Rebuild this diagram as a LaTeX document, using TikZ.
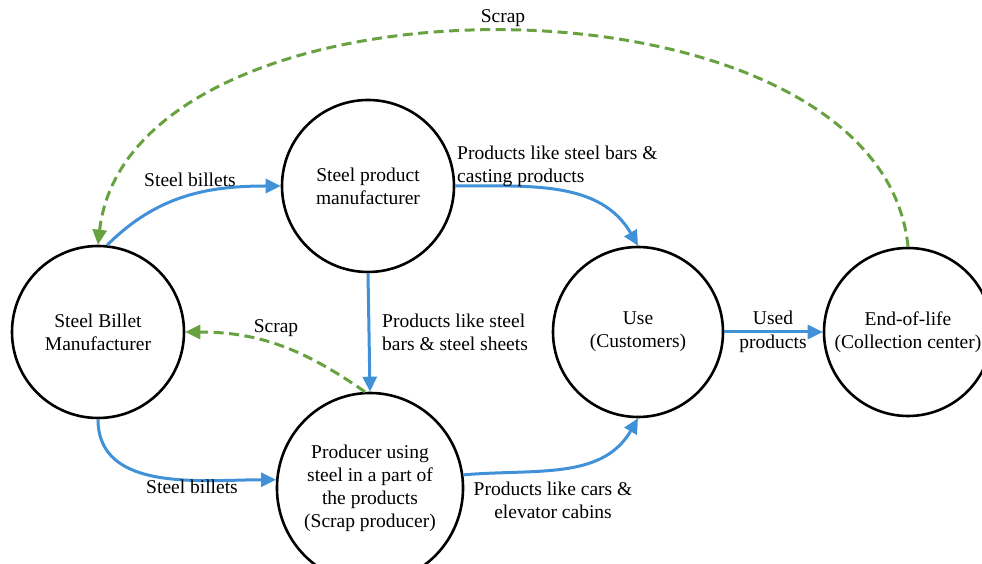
\documentclass[tikz,border=0pt]{standalone}
\usepackage{fontspec}
\setmainfont{Liberation Serif}
\usetikzlibrary{arrows.meta,shapes.geometric}
\definecolor{flowblue}{RGB}{64,145,215}
\definecolor{scrapgreen}{RGB}{104,162,64}
\begin{document}
\begin{tikzpicture}[x=1pt,y=1pt,
  txt/.style={font=\fontsize{19.5}{23}\selectfont},
  stage/.style={txt,circle,draw=black,line width=2.6pt,minimum size=#1,inner sep=0pt,align=center},
  stage/.default=172pt,
  flow/.style={draw=flowblue,line width=3pt,-{Triangle[length=15pt,width=14pt]}},
  scrapline/.style={draw=scrapgreen,line width=3pt,dash pattern=on 10pt off 5.5pt,-{Triangle[length=15pt,width=14pt]}},
  lbl/.style={txt,inner sep=0pt}]
\clip (0,0) rectangle (982,564);
% stages
\node[stage] (Billet) at (98,232) {Steel Billet\\Manufacturer};
\node[stage] (SPM) at (368,378) {Steel product\\manufacturer};
\node[stage=170pt] (Use) at (638,232) {Use\\(Customers)};
\node[stage=168pt] (End) at (908,232) {End-of-life\\(Collection center)};
\node[txt,ellipse,draw=black,line width=2.6pt,minimum width=171pt,minimum height=190pt,inner sep=0pt,align=center] (Prod) at (370,76) {Producer using\\steel in a part of\\the products\\(Scrap producer)};
% flows
\draw[flow] (Billet.84) to[out=45,in=180] (SPM.west);
\draw[flow] (SPM.east) to[out=0,in=120] (Use.north);
\draw[flow] (SPM.south) -- (Prod.north);
\draw[flow] (Billet.south) to[out=-90,in=180] (Prod.175);
\draw[flow] (Prod.8) to[out=5,in=-120] (Use.south);
\draw[flow] (Use.east) -- (End.west);
% scrap
\draw[scrapline] (Prod.93) to[out=145,in=0] (Billet.east);
\draw[scrapline] (End.north) .. controls (880,604) and (130,604) .. (Billet.north);
% labels
\node[lbl] (lScrapTop) at (503,546) {Scrap};
\node[lbl] (lBilletsTop) at (190,384) {Steel billets};
\node[lbl,anchor=west,align=left] (lBarsCast) at (457,398) {Products like steel bars \&\\casting products};
\node[lbl,anchor=west,align=left] (lBarsSheets) at (382,232) {Products like steel\\bars \& steel sheets};
\node[lbl] (lScrapMid) at (276,236) {Scrap};
\node[lbl,align=center,font=\fontsize{19.5}{24}\selectfont] (lUsed) at (773,232) {Used\\products};
\node[lbl] (lBilletsBot) at (192,77) {Steel billets};
\node[lbl,align=center] (lCars) at (553,64) {Products like cars \&\\elevator cabins};
\end{tikzpicture}
\end{document}
